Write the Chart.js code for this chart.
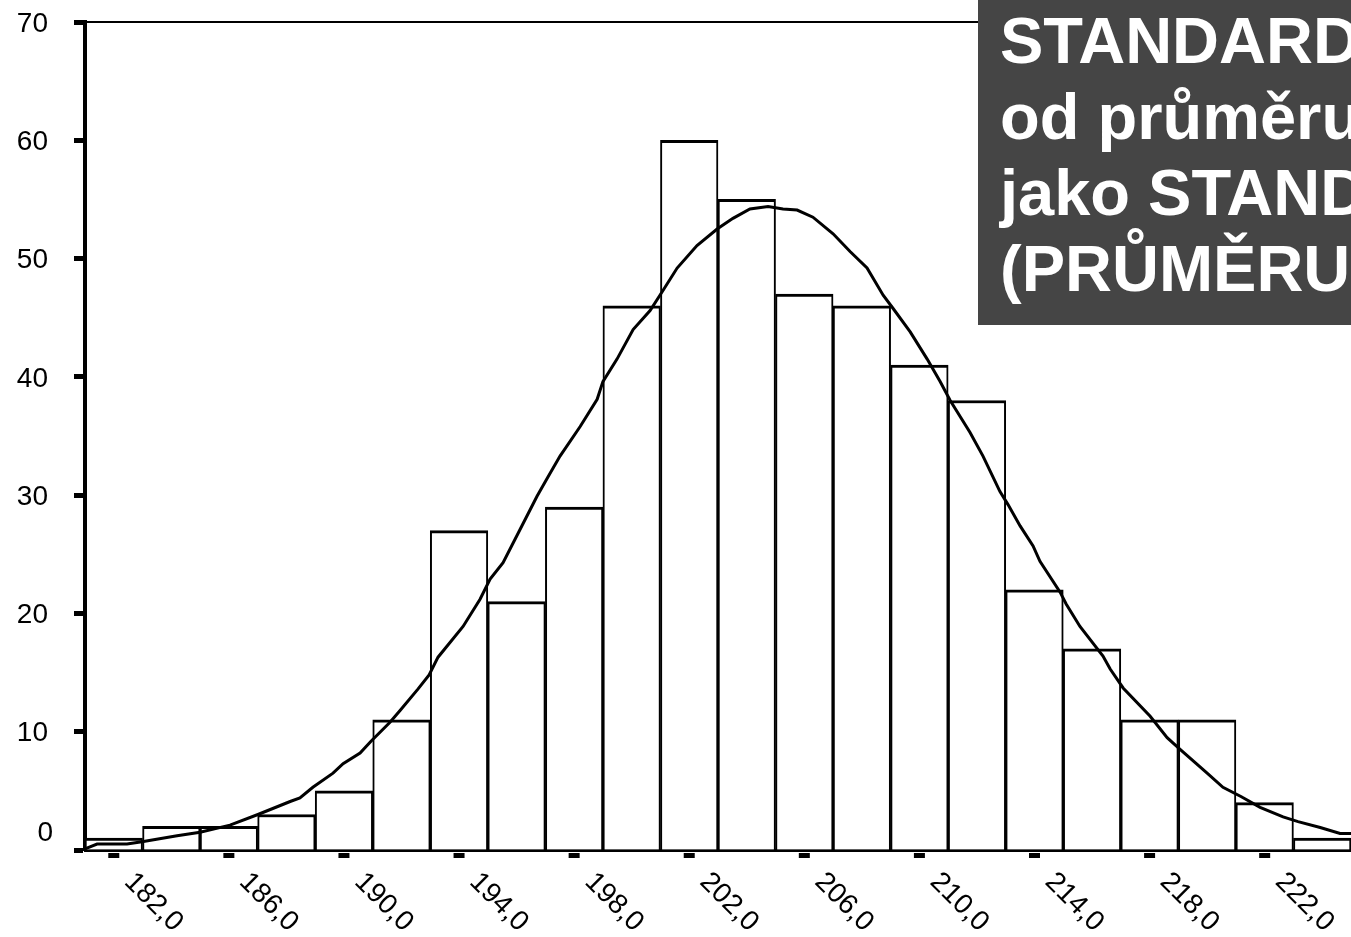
<!DOCTYPE html>
<html>
<head>
<meta charset="utf-8">
<script src="https://cdn.jsdelivr.net/npm/chart.js@4"></script>
<style>
  html, body { margin: 0; padding: 0; background: #fff; overflow: hidden; }
  #wrap { position: relative; width: 1351px; height: 937px; }
  #c { position: absolute; left: 0; top: 0; }
  #note {
    position: absolute; left: 978px; top: 0; width: 373px; height: 325px;
    background: #454545; color: #fff; overflow: hidden; white-space: nowrap;
    font-family: "Liberation Sans", Arial, sans-serif; font-weight: bold;
    font-size: 65px; line-height: 76px; padding-left: 22px; box-sizing: border-box;
    padding-top: 3px;
  }
</style>
</head>
<body>
<div id="wrap">
  <canvas id="c" width="1351" height="937"></canvas>
  <div id="note">STANDARD<br>od průměru<br>jako STAND<br>(PRŮMĚRU</div>
</div>
<script>
// Histogram bins (bin centres) and counts
const binCenters = ['182','184','186','188','190','192','194','196','198','200','202','204','206','208','210','212','214','216','218','220','222','224'];
const binCounts  = [1, 2, 2, 3, 5, 11, 27, 21, 29, 46, 60, 55, 47, 46, 41, 38, 22, 17, 11, 11, 4, 1];

// Fitted curve
const curveX = [181.00,181.42,182.46,182.98,184.20,185.00,186.04,187.01,188.13,188.47,188.92,189.62,189.97,190.56,190.94,191.60,191.95,192.57,192.96,193.27,194.14,194.73,195.08,195.53,196.12,196.71,197.06,197.51,198.21,198.80,199.00,199.49,200.05,200.64,201.06,201.58,202.27,202.97,203.52,204.11,204.74,205.26,205.75,206.30,207.00,207.59,208.18,208.74,209.08,209.68,210.27,210.72,211.07,211.76,212.21,212.80,213.08,213.50,213.95,214.19,214.89,215.10,215.58,216.38,216.63,217.08,218.02,218.61,219.06,220.00,220.55,221.19,221.84,222.64,223.16,223.93,224.62,225.00];
const curveY = [0.1,0.5,0.5,0.7,1.2,1.5,2.1,3.0,4.1,4.4,5.3,6.5,7.3,8.2,9.2,10.8,11.8,13.6,14.8,16.3,18.9,21.2,22.9,24.3,27.1,29.9,31.4,33.3,35.8,38.1,39.6,41.5,44.0,45.6,47.2,49.2,51.1,52.5,53.4,54.2,54.4,54.2,54.1,53.5,52.1,50.6,49.2,46.9,45.8,43.8,41.5,39.6,38.0,35.3,33.3,30.3,29.2,27.4,25.7,24.4,21.8,20.8,18.9,16.4,15.3,13.7,11.3,9.5,8.5,6.5,5.3,4.5,3.6,2.8,2.4,1.9,1.4,1.4];

// Axis tick labels
const xTickValues = [182,186,190,194,198,202,206,210,214,218,222];
const xTickLabels = ['182,0','186,0','190,0','194,0','198,0','202,0','206,0','210,0','214,0','218,0','222,0'];
const yTickValues = [0,10,20,30,40,50,60,70];
const yTickLabels = ['0','10','20','30','40','50','60','70'];

const FONT = '"Liberation Sans", Arial, sans-serif';

const curvePoints = curveX.map((x, i) => ({ x: x, y: curveY[i] }));

const labelPlugin = {
  id: 'customLabels',
  afterDraw(chart) {
    const ctx = chart.ctx;
    const xl = chart.scales.xl;
    const y = chart.scales.y;
    ctx.save();
    ctx.fillStyle = '#000';
    ctx.font = '28px ' + FONT;
    // x tick dashes and rotated labels
    xTickValues.forEach((v, i) => {
      const px = xl.getPixelForValue(v);
      ctx.fillRect(px - 5.5, 853, 11, 5);
      ctx.save();
      ctx.translate(px + 9.5, 883);
      ctx.rotate(Math.PI / 4);
      ctx.textAlign = 'left';
      ctx.textBaseline = 'alphabetic';
      ctx.fillText(xTickLabels[i], 0, 0);
      ctx.restore();
    });
    // y labels
    ctx.textAlign = 'right';
    ctx.textBaseline = 'middle';
    yTickValues.forEach((v, i) => {
      const py = y.getPixelForValue(v);
      if (v === 0) {
        ctx.fillText(yTickLabels[i], 53, py - 17);
      } else {
        ctx.fillText(yTickLabels[i], 48, py + 2);
      }
    });
    ctx.restore();
  }
};

new Chart(document.getElementById('c'), {
  type: 'bar',
  data: {
    labels: binCenters,
    datasets: [
      {
        type: 'line',
        data: curvePoints,
        xAxisID: 'xl',
        yAxisID: 'y',
        borderColor: '#000',
        borderWidth: 3,
        pointRadius: 0,
        tension: 0,
        fill: false,
        order: 0
      },
      {
        type: 'bar',
        data: binCounts,
        xAxisID: 'x',
        yAxisID: 'y',
        backgroundColor: '#fff',
        borderColor: '#000',
        borderWidth: { top: 3, left: 2, right: 2, bottom: 0 },
        borderSkipped: false,
        barPercentage: 1,
        categoryPercentage: 1,
        grouped: false,
        order: 1
      }
    ]
  },
  options: {
    responsive: false,
    animation: false,
    devicePixelRatio: 1,
    layout: { padding: 0 },
    plugins: { legend: { display: false }, tooltip: { enabled: false } },
    scales: {
      x: {
        type: 'category',
        position: 'bottom',
        offset: true,
        ticks: { display: false },
        grid: { display: false },
        border: { display: true, color: '#000', width: 3 },
        afterFit(s) { s.height = 87; }
      },
      xl: {
        type: 'linear',
        display: false,
        offset: false,
        min: 181,
        max: 225
      },
      xTop: {
        type: 'linear',
        position: 'top',
        offset: false,
        min: 181,
        max: 225,
        ticks: { display: false },
        grid: { display: false },
        border: { display: true, color: '#000', width: 2 },
        afterFit(s) { s.height = 22; }
      },
      y: {
        type: 'linear',
        position: 'left',
        min: 0,
        max: 70,
        ticks: { display: false, stepSize: 10 },
        grid: {
          drawOnChartArea: false,
          drawTicks: true,
          tickLength: 11,
          tickWidth: 5,
          tickColor: '#000',
          color: '#000'
        },
        border: { display: true, color: '#000', width: 4 },
        afterFit(s) { s.width = 85; }
      }
    }
  },
  plugins: [labelPlugin]
});
</script>
</body>
</html>
